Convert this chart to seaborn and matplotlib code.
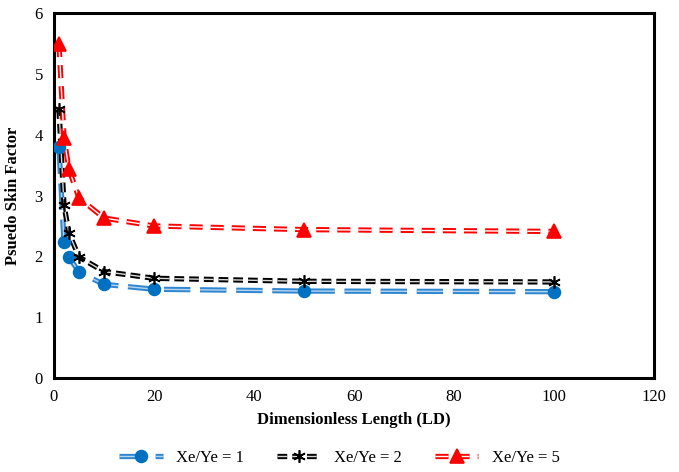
import numpy as np
import pandas as pd
import matplotlib
matplotlib.use("Agg")
import matplotlib.pyplot as plt
import matplotlib.patheffects as pe
from matplotlib.lines import Line2D
from matplotlib.ticker import MultipleLocator
import seaborn as sns

# values
ld = [1, 2, 3, 5, 10, 20, 50, 100]
skin_xy1 = [3.79, 2.24, 1.99, 1.74, 1.54, 1.46, 1.43, 1.42]
skin_xy2 = [4.42, 2.84, 2.38, 1.99, 1.75, 1.64, 1.59, 1.58]
skin_xy5 = [5.49, 3.95, 3.43, 2.96, 2.63, 2.50, 2.44, 2.41]
labels = ["Xe/Ye = 1", "Xe/Ye = 2", "Xe/Ye = 5"]

sns.set_style("white")
plt.rcParams["font.family"] = ["Liberation Serif", "DejaVu Serif"]
plt.rcParams["lines.scale_dashes"] = False
plt.rcParams["text.color"] = "black"
plt.rcParams["axes.labelcolor"] = "black"

fig = plt.figure(figsize=(6.79, 4.72), dpi=100)
ax = fig.add_axes([0.0795, 0.199, 0.884, 0.7735])

# style per series: outer colour, inner colour, dash pattern (pt), marker, marker size
styles = [
    ("#2E86D0", "#B5D4EE", (19, 7), "o", 8.5),
    ("black", "#D8D8D8", (7, 3.6), (6, 2, 0), 9),
    ("#FF0000", "white", (9.4, 5.8), "^", 10),
]
series = [skin_xy1, skin_xy2, skin_xy5]

handles = []
for vals, lab, (outer, inner, dash, mk, ms) in zip(series, labels, styles):
    df = pd.DataFrame({"LD": ld, "S": vals})
    sns.lineplot(data=df, x="LD", y="S", ax=ax, color=inner, linewidth=1.0,
                 errorbar=None, sort=False)
    ln = ax.lines[-1]
    ln.set_dashes(dash)
    ln.set_dash_capstyle("butt")
    ln.set_path_effects([pe.Stroke(linewidth=3.8, foreground=outer), pe.Normal()])
    mcol = "#0070C0" if mk == "o" else outer
    ax.plot(df["LD"], df["S"], linestyle="none", marker=mk, markersize=ms,
            color=mcol, markeredgewidth=1.2, zorder=5)
    hline = Line2D([], [], color=inner, linewidth=1.0, dashes=dash,
                   path_effects=[pe.Stroke(linewidth=3.8, foreground=outer), pe.Normal()])
    handles.append((hline, Line2D([], [], linestyle="none", marker=mk, markersize=ms,
                                  color=mcol, markeredgewidth=1.2)))

ax.set_xlim(0, 120)
ax.set_ylim(0, 6)
ax.xaxis.set_major_locator(MultipleLocator(20))
ax.xaxis.set_minor_locator(MultipleLocator(4))
ax.yaxis.set_major_locator(MultipleLocator(1))
ax.yaxis.set_minor_locator(MultipleLocator(0.2))
ax.tick_params(which="both", direction="in", length=3, width=1.5, colors="black",
               labelsize=12, pad=8)
for s in ax.spines.values():
    s.set_visible(True)
    s.set_color("black")
    s.set_linewidth(2.2)

ax.set_xlabel("Dimensionless Length (LD)", fontsize=12, fontweight="bold", labelpad=5)
ax.set_ylabel("Psuedo Skin Factor", fontsize=12, fontweight="bold", labelpad=10)

fig.legend(handles, labels, loc="center", bbox_to_anchor=(0.5, 0.03), ncol=3,
           frameon=False, fontsize=12, handlelength=2.6, columnspacing=2.0)

fig.savefig("out.png", dpi=100)
